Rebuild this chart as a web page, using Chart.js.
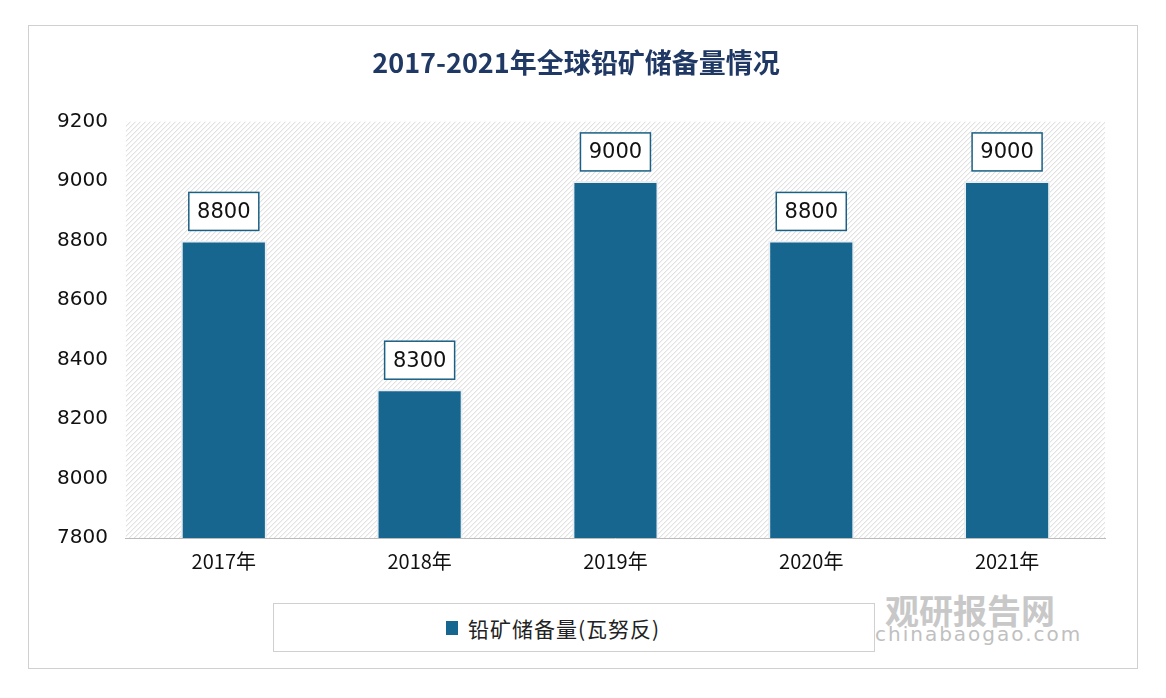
<!DOCTYPE html>
<html><head><meta charset="utf-8">
<script src="https://cdn.jsdelivr.net/npm/chart.js@4"></script>
<style>
body{margin:0;background:#fff;width:1166px;height:698px;overflow:hidden;font-family:"Noto Sans CJK SC",sans-serif}
#frame{position:absolute;left:28px;top:25px;width:1110px;height:644px;border:1px solid #d0d0d0;box-sizing:border-box}
#wrap{position:absolute;left:30px;top:39px;width:1100px;height:537px}
#legend{position:absolute;left:273px;top:603px;width:602px;height:49px;border:1px solid #d0d0d0;box-sizing:border-box;display:flex;align-items:center;padding-left:172px;font-size:21px;color:#222;letter-spacing:1px}
#legend span.sq{display:inline-block;width:12px;height:14px;background:#17668F;margin-right:10px}
#wm1{position:absolute;left:885px;top:585px;font-size:34px;font-weight:bold;color:#c8c8c8}
#wm2{position:absolute;left:875px;top:622px;font-size:20px;color:#c0c0c0;letter-spacing:2px;font-family:"DejaVu Sans"}
</style></head><body>
<div id="frame"></div>
<div id="wrap"><canvas id="c"></canvas></div>
<div id="legend"><span class="sq"></span>铅矿储备量(瓦努反)</div>
<div id="wm1">观研报告网</div>
<div id="wm2">chinabaogao.com</div>
<script>
const categories=["2017年","2018年","2019年","2020年","2021年"];
const values=[8800,8300,9000,8800,9000];
const seriesName="铅矿储备量(瓦努反)";
const hatch={id:'hatch',beforeDatasetsDraw(ch){const {ctx,chartArea:a}=ch;ctx.save();ctx.beginPath();ctx.rect(a.left,a.top,a.right-a.left,a.bottom-a.top);ctx.clip();ctx.strokeStyle='#d6d6d6';ctx.lineWidth=1;const h=a.bottom-a.top;for(let x=a.left-h;x<a.right;x+=5){ctx.beginPath();ctx.moveTo(x,a.bottom);ctx.lineTo(x+h,a.top);ctx.stroke();}ctx.restore();}};
const labels={id:'lbl',afterDatasetsDraw(ch){const {ctx}=ch;const m=ch.getDatasetMeta(0);ctx.save();ctx.font='21px "DejaVu Sans"';ctx.textAlign='center';ctx.textBaseline='middle';m.data.forEach((b,i)=>{const t=String(values[i]);const w=70,h=38,x=b.x,y=b.y-29;ctx.fillStyle='#fff';ctx.fillRect(x-w/2,y-h/2,w,h);ctx.strokeStyle='#1a5f84';ctx.lineWidth=1.5;ctx.strokeRect(x-w/2,y-h/2,w,h);ctx.fillStyle='#111';ctx.fillText(t,x,y+1);});ctx.restore();}};
new Chart(document.getElementById('c'),{type:'bar',data:{labels:categories,datasets:[{label:seriesName,data:values,backgroundColor:'#17668F',borderColor:'#e8eef2',borderWidth:{left:2,right:2,top:2,bottom:0},barPercentage:0.44,categoryPercentage:1}]},
options:{responsive:true,maintainAspectRatio:false,animation:false,
layout:{padding:{left:17,right:25,top:0,bottom:0}},
plugins:{legend:{display:false},tooltip:{enabled:false},title:{display:true,text:'2017-2021年全球铅矿储备量情况',color:'#1F3864',font:{size:27,weight:'bold',family:'"Noto Sans CJK SC"'},padding:{top:8,bottom:42}}},
scales:{y:{min:7800,max:9200,ticks:{stepSize:200,callback:v=>String(v),color:'#111',font:{size:20,family:'"DejaVu Sans"'},padding:10},grid:{display:false},border:{display:false}},
x:{ticks:{color:'#111',font:{size:20,family:'"Noto Sans CJK SC"'}},grid:{display:false},border:{color:'#bbb'}}}},
plugins:[hatch,labels]});
</script></body></html>
